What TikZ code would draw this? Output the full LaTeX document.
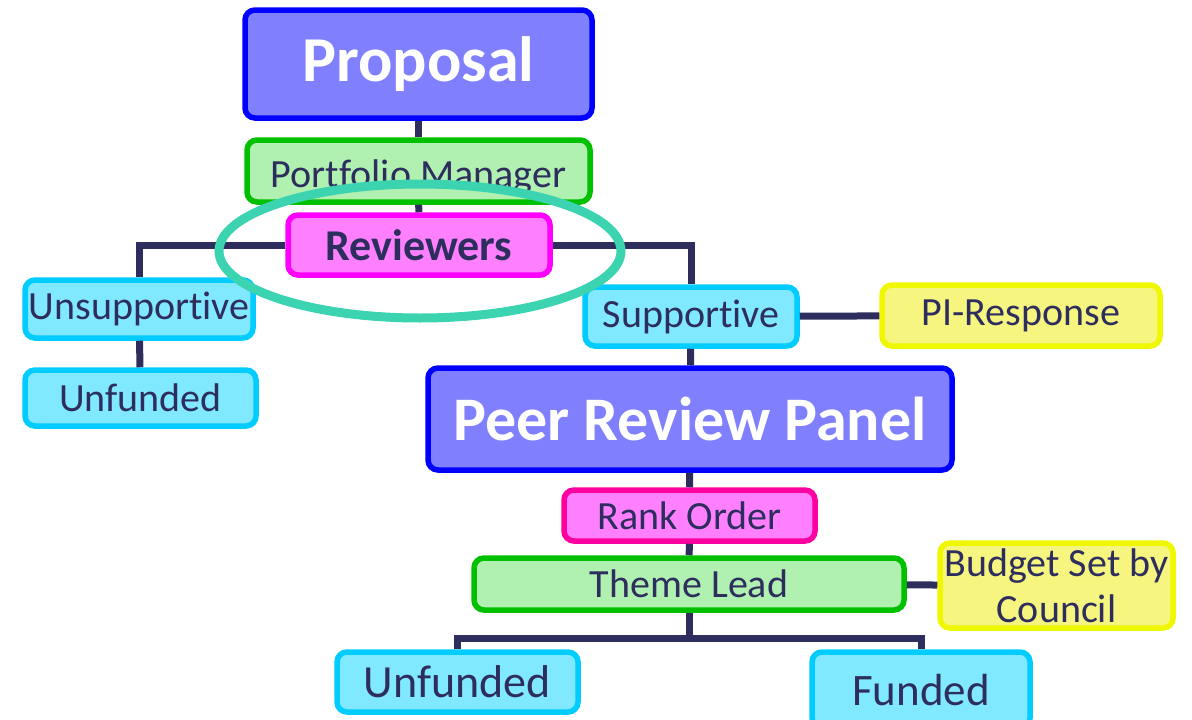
\documentclass[tikz,border=0pt]{standalone}
\usepackage{fontspec}
\setmainfont{Carlito}[Ligatures=NoCommon]
\usepackage{tikz}
\usetikzlibrary{calc}
\definecolor{ink}{HTML}{2E2E5E}
\definecolor{blueF}{HTML}{8080FF}
\definecolor{blueD}{HTML}{0000FF}
\definecolor{greenF}{HTML}{B0F0B0}
\definecolor{greenD}{HTML}{00C000}
\definecolor{pinkF}{HTML}{FF80FF}
\definecolor{pinkD}{HTML}{FF00FF}
\definecolor{rankD}{HTML}{FF00A0}
\definecolor{cyanF}{HTML}{80E8FF}
\definecolor{cyanD}{HTML}{00CCFF}
\definecolor{yellowF}{HTML}{F5F580}
\definecolor{yellowD}{HTML}{F0F800}
\definecolor{ringC}{HTML}{3CD4B0}

\begin{document}
\begin{tikzpicture}[x=1pt,y=-1pt,
    box/.style={draw, line width=5.5pt, rounded corners=10pt, inner sep=0pt, align=center, text=ink,
        font=\fontsize{40}{44}\selectfont},
    big/.style={box, fill=blueF, draw=blueD, text=white, font=\fontsize{62}{70}\selectfont\bfseries},
    mgr/.style={box, fill=greenF, draw=greenD},
    rvw/.style={box, fill=pinkF, draw=pinkD},
    lead/.style={box, fill=cyanF, draw=cyanD},
    note/.style={box, fill=yellowF, draw=yellowD},
    link/.style={draw=ink, line width=7pt}]
            \useasboundingbox (0,0) rectangle (1192,720);
            % top half
            \node[big, minimum width=347, minimum height=108, font=\fontsize{64}{70}\selectfont\bfseries] (prop) at (418.5,64) {Proposal};
            \node[mgr, minimum width=343, minimum height=62] (pm) at (418.5,171) {\raisebox{-6pt}[\height][\depth]{Portfolio Manager}};
            \node[rvw, minimum width=262, minimum height=60, font=\fontsize{44}{48}\selectfont\bfseries] (rev) at (419,245) {Reviewers};
            \node[lead, minimum width=228, minimum height=58] (unsup) at (139,309) {Unsupportive};
            \node[lead, minimum width=231, minimum height=56] (unfA) at (140.5,398) {Unfunded};
            \node[lead, minimum width=212, minimum height=59] (sup) at (691,316.5) {Supportive};
            \node[note, minimum width=278, minimum height=61] (pir) at (1021,315.5) {PI-Response};
            % bottom half
            \node[big, minimum width=524, minimum height=102] (prp) at (690,419) {Peer Review Panel};
            \node[rvw, draw=rankD, minimum width=251, minimum height=51] (rank) at (689.5,515.5) {Rank Order};
            \node[mgr, minimum width=430, minimum height=52] (theme) at (689,584) {Theme Lead};
            \node[note, minimum width=233, minimum height=85, font=\fontsize{40}{46}\selectfont] (budget) at (1056.5,585.5) {Budget Set by\\Council};
            \node[lead, minimum width=241, minimum height=60, font=\fontsize{46}{50}\selectfont] (unfB) at (457.5,682) {Unfunded};
            \node[lead, minimum width=218, minimum height=76, font=\fontsize{45}{50}\selectfont] (fund) at (921,690) {Funded};
            \coordinate (split) at ($(theme.south)+(0,26)$);
            \draw[link] (prop) -- (pm);
            \draw[link] (pm) -- (rev);
            \draw[link] (rev.west) -| (unsup.north);
            \draw[link] (rev.east) -| (sup.north);
            \draw[link] (unsup) -- (unfA);
            \draw[link] (sup) -- (pir);
            \draw[link] (sup) -- (prp);
            \draw[link] (prp) -- (rank);
            \draw[link] (rank) -- (theme);
            \draw[link] (theme) -- (budget);
            \draw[link] (theme.south) -- (split);
            \draw[link] (split) -| (unfB.north);
            \draw[link] (split) -| (fund.north);
            \draw[draw=ringC, line width=9pt] (420,251) ellipse [x radius=201, y radius=67];
        \end{tikzpicture}
\end{document}
